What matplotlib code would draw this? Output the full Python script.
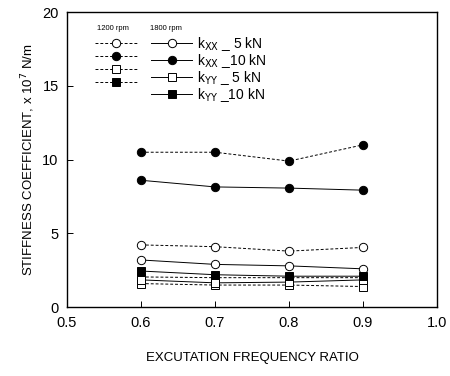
import matplotlib
matplotlib.use("Agg")
import matplotlib.pyplot as plt

plt.rcParams["font.family"] = ["Liberation Sans", "DejaVu Sans"]

# ── Data ───────────────────────────────────────────────────────
ratio = [0.6, 0.7, 0.8, 0.9]

kxx_5_1200 = [4.22, 4.10, 3.80, 4.05]
kxx_5_1800 = [3.20, 2.90, 2.80, 2.60]
kxx_10_1200 = [10.5, 10.5, 9.9, 11.0]
kxx_10_1800 = [8.6, 8.15, 8.07, 7.93]
kyy_5_1200 = [1.60, 1.50, 1.50, 1.40]
kyy_5_1800 = [1.85, 1.65, 1.70, 1.85]
kyy_10_1200 = [2.05, 2.00, 2.00, 2.00]
kyy_10_1800 = [2.45, 2.20, 2.10, 2.10]

LABELS = [r"k$_{\rm XX}$ _ 5 kN", r"k$_{\rm XX}$ _10 kN",
          r"k$_{\rm YY}$ _ 5 kN", r"k$_{\rm YY}$ _10 kN"]
# ───────────────────────────────────────────────────────────────

series_1200 = [kxx_5_1200, kxx_10_1200, kyy_5_1200, kyy_10_1200]
series_1800 = [kxx_5_1800, kxx_10_1800, kyy_5_1800, kyy_10_1800]
markers = ["o", "o", "s", "s"]
faces = ["white", "black", "white", "black"]

fig = plt.figure(figsize=(4.5, 3.76), dpi=100)
ax = fig.add_axes([0.149, 0.183, 0.822, 0.785])

h1200, h1800 = [], []
for vals, m, fc in zip(series_1200, markers, faces):
    ln, = ax.plot(ratio, vals, ls=(0, (3, 2)), lw=0.7, color="black",
                  marker=m, ms=6, mfc=fc, mec="black", mew=0.7)
    h1200.append(ln)
for vals, m, fc in zip(series_1800, markers, faces):
    ln, = ax.plot(ratio, vals, ls="-", lw=0.7, color="black",
                  marker=m, ms=6, mfc=fc, mec="black", mew=0.7)
    h1800.append(ln)

ax.set_xlim(0.5, 1.0)
ax.set_ylim(0, 20)
ax.set_xticks([0.5, 0.6, 0.7, 0.8, 0.9, 1.0])
ax.set_xticklabels(["0.5", "0.6", "0.7", "0.8", "0.9", "1.0"])
ax.set_yticks([0, 5, 10, 15, 20])
ax.tick_params(direction="in", length=4, width=0.7, labelsize=10.5, pad=6)
for sp in ax.spines.values():
    sp.set_linewidth(1.0)

ax.set_xlabel("EXCUTATION FREQUENCY RATIO", fontsize=9.5, labelpad=16)
ax.set_ylabel(r"STIFFNESS COEFFICIENT, x 10$^{7}$ N/m", fontsize=9.5, labelpad=4)

leg = ax.legend(handles=h1200 + h1800, labels=[""] * 4 + LABELS, ncol=2,
                loc="upper left", bbox_to_anchor=(0.05, 0.955), frameon=False,
                fontsize=10, handlelength=3.0, handletextpad=0.35,
                columnspacing=0.65, labelspacing=-0.08, borderpad=0.2)
ax.text(0.08, 0.94, "1200 rpm", transform=ax.transAxes, fontsize=5.5)
ax.text(0.225, 0.94, "1800 rpm", transform=ax.transAxes, fontsize=5.5)

fig.savefig("out.png", dpi=100)
